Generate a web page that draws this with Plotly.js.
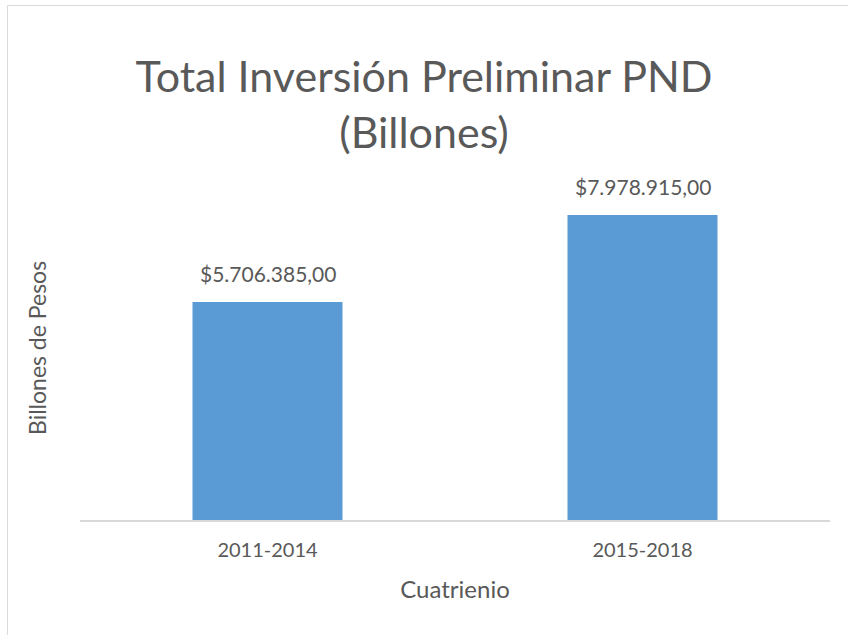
<!DOCTYPE html>
<html>
<head>
<meta charset="utf-8">
<script src="https://cdn.plot.ly/plotly-3.0.1.min.js"></script>
<style>
  html, body { margin: 0; padding: 0; background: #fff; }
  #chart { width: 848px; height: 635px; }
</style>
</head>
<body>
<div id="chart"></div>
<script>
const categories = ["2011-2014", "2015-2018"];
const values = [5706385.00, 7978915.00];
const chartTitle = "Total Inversión Preliminar PND<br>(Billones)";
const xTitle = "Cuatrienio";
const yTitle = "Billones de Pesos";

function fmt(v) {
  const parts = v.toFixed(2).split(".");
  const intPart = parts[0].replace(/\B(?=(\d{3})+(?!\d))/g, ".");
  return "$" + intPart + "," + parts[1];
}

const FONT = "Lato, 'Open Sans', sans-serif";
const TXT = "#595959";
const L = 80, R = 18, T = 176, B = 115;
const W = 848 - L - R, H = 635 - T - B;

const trace = {
  type: "bar",
  x: categories,
  y: values,
  marker: { color: "#5B9BD5", line: { width: 0 } },
  hoverinfo: "skip"
};

const annotations = categories.map((c, i) => ({
  x: c, y: values[i], xref: "x", yref: "y",
  text: fmt(values[i]), showarrow: false,
  yanchor: "bottom", yshift: 14,
  font: { family: FONT, size: 21, color: TXT }
}));
annotations.push({
  xref: "paper", yref: "paper", x: (37 - L) / W, y: 0.5,
  xanchor: "center", yanchor: "middle", textangle: -90,
  text: yTitle, showarrow: false,
  font: { family: FONT, size: 23, color: TXT }
});

const layout = {
  width: 848, height: 635,
  margin: { l: L, r: R, t: T, b: B, pad: 0 },
  paper_bgcolor: "#ffffff", plot_bgcolor: "#ffffff",
  showlegend: false,
  bargap: 0.6,
  title: {
    text: chartTitle,
    font: { family: FONT, size: 43, color: TXT },
    x: 0.5, xanchor: "center",
    yref: "container", y: 1 - 92 / 635, yanchor: "top"
  },
  xaxis: {
    type: "category",
    range: [-0.5, 1.5],
    showline: true, linecolor: "#D9D9D9", linewidth: 1.5,
    showgrid: false, zeroline: false, ticks: "",
    tickfont: { family: FONT, size: 20, color: TXT },
    ticklabelstandoff: 11,
    title: { text: xTitle, font: { family: FONT, size: 24, color: TXT }, standoff: 21 }
  },
  yaxis: {
    range: [0, 9000000],
    showticklabels: false, showgrid: false, zeroline: false, showline: false, ticks: ""
  },
  annotations: annotations,
  shapes: [
    { type: "line", xref: "paper", yref: "paper",
      x0: (7.5 - L) / W, x1: (7.5 - L) / W, y0: -2, y1: (H + T - 5.5) / H,
      line: { color: "#D9D9D9", width: 1 } },
    { type: "line", xref: "paper", yref: "paper",
      x0: (7.5 - L) / W, x1: 1.5, y0: (H + T - 5.5) / H, y1: (H + T - 5.5) / H,
      line: { color: "#D9D9D9", width: 1 } }
  ]
};

Plotly.newPlot("chart", [trace], layout, { displayModeBar: false, staticPlot: true });
</script>
</body>
</html>
